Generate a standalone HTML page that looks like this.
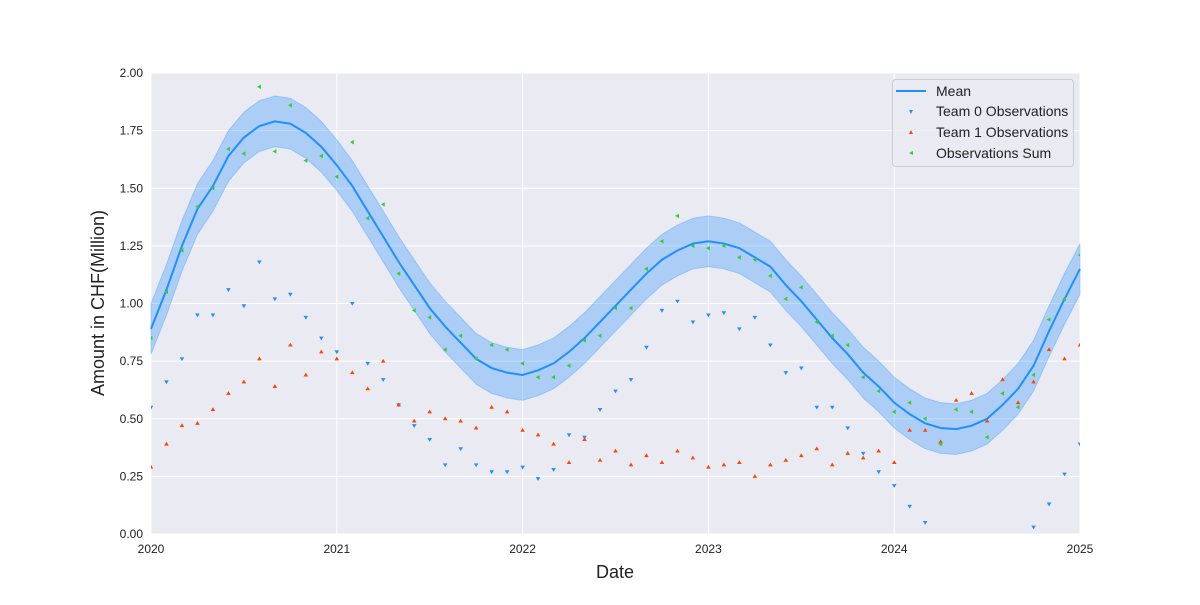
<!DOCTYPE html>
<html><head><meta charset="utf-8"><style>
html,body{margin:0;padding:0;background:#fff;}
svg text{font-family:"Liberation Sans",Arial,sans-serif;}
</style></head><body>
<svg id="chart" width="1200" height="600" viewBox="0 0 1200 600" xmlns="http://www.w3.org/2000/svg">
<rect x="151" y="73" width="929" height="461" fill="#eaeaf2"/>
<g id="grid"></g>
<g id="band"></g>
<g id="marks"></g>
<g id="axes"></g>
<text x="615" y="578" font-size="18" text-anchor="middle" fill="#222">Date</text>
<text transform="translate(104,303) rotate(-90)" font-size="18" text-anchor="middle" fill="#222">Amount in CHF(Million)</text>
<g>
<rect x="892.5" y="79.5" width="181" height="87" rx="3" fill="#eaeaf2" fill-opacity="0.8" stroke="#cccccc"/>
<line x1="896" y1="91" x2="926" y2="91" stroke="#1e90ff" stroke-width="2"/>
<text x="936" y="96" font-size="14" fill="#222">Mean</text>
<path d="M909,110 L913,110 L911,114Z" fill="#1e90ff"/>
<text x="936" y="116" font-size="14" fill="#222">Team 0 Observations</text>
<path d="M909,134 L913,134 L911,130Z" fill="#ff4500"/>
<text x="936" y="137" font-size="14" fill="#222">Team 1 Observations</text>
<path d="M909,153 L913,151 L913,155Z" fill="#32cd32"/>
<text x="936" y="158" font-size="14" fill="#222">Observations Sum</text>
</g>
</svg>
<script>
const yearTicks = ["2020","2021","2022","2023","2024","2025"];
const yTicks = [0,0.25,0.5,0.75,1.0,1.25,1.5,1.75,2.0];
const team0 = [0.55,0.66,0.76,0.95,0.95,1.06,0.99,1.18,1.02,1.04,0.94,0.85,0.79,1.00,0.74,0.67,0.56,0.47,0.41,0.30,0.37,0.30,0.27,0.27,0.29,0.24,0.28,0.43,0.42,0.54,0.62,0.67,0.81,0.97,1.01,0.92,0.95,0.96,0.89,0.94,0.82,0.70,0.72,0.55,0.55,0.46,0.35,0.27,0.21,0.12,0.05,-0.02,-0.1,-0.1,-0.1,-0.05,-0.02,0.03,0.13,0.26,0.39];
const team1 = [0.29,0.39,0.47,0.48,0.54,0.61,0.66,0.76,0.64,0.82,0.69,0.79,0.76,0.70,0.63,0.75,0.56,0.49,0.53,0.50,0.49,0.46,0.55,0.53,0.45,0.43,0.39,0.31,0.41,0.32,0.36,0.30,0.34,0.31,0.36,0.33,0.29,0.30,0.31,0.25,0.30,0.32,0.34,0.37,0.30,0.35,0.33,0.36,0.31,0.45,0.45,0.40,0.58,0.61,0.49,0.67,0.57,0.66,0.80,0.76,0.82];
const obsSum = [0.85,1.05,1.23,1.42,1.50,1.67,1.65,1.94,1.66,1.86,1.62,1.64,1.55,1.70,1.37,1.43,1.13,0.97,0.94,0.80,0.86,0.76,0.82,0.80,0.74,0.68,0.68,0.73,0.84,0.86,0.98,0.98,1.15,1.27,1.38,1.25,1.24,1.25,1.20,1.19,1.12,1.02,1.07,0.92,0.86,0.82,0.68,0.62,0.53,0.57,0.50,0.39,0.54,0.53,0.42,0.61,0.55,0.69,0.93,1.02,1.21];
const meanVals = [0.89,1.06,1.25,1.41,1.51,1.64,1.72,1.77,1.79,1.78,1.74,1.68,1.60,1.51,1.40,1.29,1.18,1.08,0.98,0.90,0.83,0.76,0.72,0.70,0.69,0.71,0.74,0.79,0.85,0.92,0.99,1.06,1.13,1.19,1.23,1.26,1.27,1.26,1.24,1.20,1.16,1.08,1.01,0.93,0.85,0.78,0.70,0.64,0.57,0.52,0.48,0.46,0.455,0.47,0.50,0.56,0.63,0.73,0.88,1.02,1.15];
const bandHalf = [0.11];

const X0=151,X1=1080,Y0=534,Y1=73;
const xm = i => X0 + (X1-X0)*i/60;
const xy = k => X0 + (X1-X0)*k/(yearTicks.length-1);
const ys = v => Y0 - (Y0-Y1)*v/2.0;
const NS="http://www.w3.org/2000/svg";
function mk(tag, attrs, parent){const e=document.createElementNS(NS,tag);for(const k in attrs)e.setAttribute(k,attrs[k]);parent.appendChild(e);return e;}
const grid=document.getElementById('grid'),axes=document.getElementById('axes'),band=document.getElementById('band'),marks=document.getElementById('marks');

yTicks.forEach(v=>{
  const l=mk('line',{x1:X0,x2:X1,y1:ys(v),y2:ys(v),stroke:'#fff','stroke-width':1},grid);
  
  
  const t=mk('text',{x:X0-8,y:ys(v)+4,'font-size':12,'text-anchor':'end',fill:'#222'},axes);
  t.textContent=v.toFixed(2);
  
  
});
yearTicks.forEach((s,k)=>{
  const l=mk('line',{x1:xy(k),x2:xy(k),y1:Y1,y2:Y0,stroke:'#fff','stroke-width':1},grid);
  
  
  const t=mk('text',{x:xy(k),y:Y0+19,'font-size':12,'text-anchor':'middle',fill:'#222'},axes);
  t.textContent=s;
  
  
});

let up=meanVals.map((v,i)=>xm(i)+','+ys(v+bandHalf[0]));
let lo=meanVals.map((v,i)=>xm(i)+','+ys(v-bandHalf[0])).reverse();
const bp=mk('polygon',{points:up.concat(lo).join(' '),fill:'#1e90ff','fill-opacity':0.3,stroke:'#1e90ff','stroke-opacity':0.3},band);


const ml=mk('polyline',{points:meanVals.map((v,i)=>xm(i)+','+ys(v)).join(' '),fill:'none',stroke:'#1e90ff','stroke-width':2},band);



const clip=mk('clipPath',{id:'pc'},document.getElementById('chart'));
mk('rect',{x:X0,y:Y1,width:X1-X0,height:Y0-Y1},clip);
marks.setAttribute('clip-path','url(#pc)');

function tri(x,y,dir){
  if(dir==='down')return `M${x-2.3},${y-1.5} L${x+2.3},${y-1.5} L${x},${y+2.3}Z`;
  if(dir==='up')return `M${x-2.3},${y+1.5} L${x+2.3},${y+1.5} L${x},${y-2.3}Z`;
  return `M${x-2.3},${y} L${x+1.5},${y-2.3} L${x+1.5},${y+2.3}Z`;
}
team0.forEach((v,i)=>{
  const p=mk('path',{d:tri(xm(i),ys(v),'down'),fill:'#1e90ff'},marks);
  
  
});
team1.forEach((v,i)=>{
  const p=mk('path',{d:tri(xm(i),ys(v),'up'),fill:'#ff4500'},marks);
  
  
});
obsSum.forEach((v,i)=>{
  const p=mk('path',{d:tri(xm(i),ys(v),'left'),fill:'#32cd32'},marks);
  
  
});
</script>
</body></html>
